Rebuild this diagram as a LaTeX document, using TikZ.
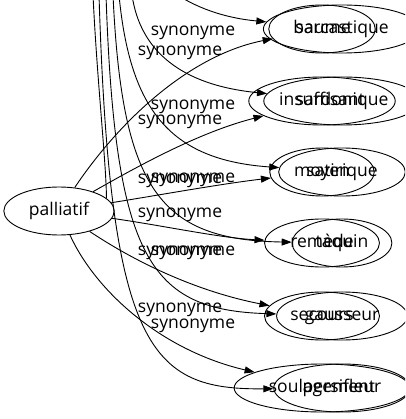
\documentclass[tikz,border=0pt]{standalone}
\usepackage{fontspec}
\setmainfont{Open Sans}
\usetikzlibrary{arrows.meta,shapes.geometric}
\begin{document}
\begin{tikzpicture}[x=1pt,y=-1pt,
  word/.style={ellipse,draw,line width=0.9pt,inner xsep=9pt,inner ysep=0pt,
    text height=13pt,text depth=4pt,minimum height=48pt,
    font=\fontsize{17.5}{20}\selectfont},
  lbl/.style={inner sep=0pt,font=\fontsize{17.5}{20}\selectfont},
  syn/.style={line width=0.9pt,-{Triangle[length=10pt,width=7pt]}},
  plain/.style={line width=0.9pt},
  ]
\useasboundingbox (0,0) rectangle (405,419);
\clip (0,0) rectangle (405,419);
% first graph
\node[word] (pal) at (59,211) {palliatif};
\node[word] (baume) at (322,29) {baume};
\node[word] (insuf) at (322,101) {insuffisant};
\node[word] (moyen) at (322,172) {moyen};
\node[word] (remede) at (322,243) {remède};
\node[word] (secours) at (322,316) {secours};
\node[word] (soulag) at (322,388) {soulagement};
% second graph
\node[word] (sarc) at (342,29) {sarcastique};
\node[word] (sard) at (342,101) {sardonique};
\node[word] (sati) at (342,172) {satirique};
\node[word] (taquin) at (342,243) {taquin};
\node[word] (gauss) at (342,316) {gausseur};
\node[word] (persi) at (342,388) {persifleur};
% free ends of the second graph's edges (source above the picture)
\coordinate (t1) at (170,-10);
\coordinate (t2) at (132,-5);
\coordinate (t3) at (119,-5);
\coordinate (t4) at (113,-5);
\coordinate (t5) at (106,-5);
\coordinate (t6) at (99,-5);
\coordinate (t7) at (93,-5);
% edges of the first graph
\draw[syn] (pal) .. controls (120,120) and (190,55) .. (baume);
\draw[syn] (pal) .. controls (140,165) and (200,132) .. (insuf);
\draw[syn] (pal) .. controls (160,195) and (220,184) .. (moyen);
\draw[syn] (pal) .. controls (160,225) and (220,238) .. (remede);
\draw[syn] (pal) .. controls (140,265) and (200,292) .. (secours);
\draw[syn] (pal) .. controls (95,290) and (160,350) .. (soulag);
% edges of the second graph
\draw[syn] (t1) .. controls (195,8) and (225,18) .. (sarc);
\draw[syn] (t2) .. controls (140,50) and (180,85) .. (sard);
\draw[syn] (t3) .. controls (130,110) and (170,160) .. (sati);
\draw[syn] (t4) .. controls (122,190) and (160,240) .. (taquin);
\draw[syn] (t5) .. controls (115,260) and (150,310) .. (gauss);
\draw[syn] (t6) .. controls (110,350) and (150,390) .. (persi);
\draw[plain] (t7) .. controls (97,80) and (106,160) .. (pal.15);
% labels
\node[lbl] (la1) at (180,53) {synonyme};
\node[lbl] (la2) at (180,122) {synonyme};
\node[lbl] (la3) at (180,181) {synonyme};
\node[lbl] (la4) at (180,215) {synonyme};
\node[lbl] (la5) at (180,253) {synonyme};
\node[lbl] (la6) at (180,310) {synonyme};
\node[lbl] (lb1) at (193,33) {synonyme};
\node[lbl] (lb2) at (193,107) {synonyme};
\node[lbl] (lb3) at (193,180) {synonyme};
\node[lbl] (lb4) at (193,253) {synonyme};
\node[lbl] (lb5) at (193,326) {synonyme};
\end{tikzpicture}
\end{document}
